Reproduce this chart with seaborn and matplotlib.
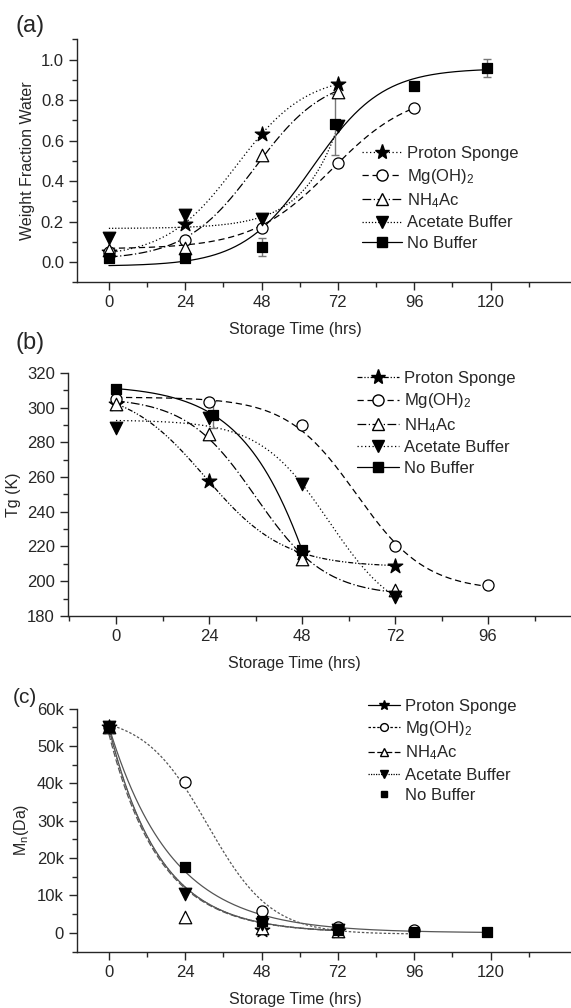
import numpy as np
import pandas as pd
import seaborn as sns
from matplotlib import pyplot as plt
from matplotlib.lines import Line2D
from matplotlib.ticker import MultipleLocator, FixedLocator, FuncFormatter

sns.set_style("ticks")
plt.rcParams['font.family'] = ['Liberation Sans', 'DejaVu Sans']
plt.rcParams['mathtext.default'] = 'regular'
plt.rcParams['font.size'] = 11.5

names = ['Proton Sponge', 'Mg(OH)$_2$', 'NH$_4$Ac', 'Acetate Buffer', 'No Buffer']

# (a) weight fraction water
a_x = {
    'Proton Sponge': [0, 24, 48, 72],
    'Mg(OH)$_2$': [0, 24, 48, 72, 96],
    'NH$_4$Ac': [0, 24, 48, 72],
    'Acetate Buffer': [0, 24, 48, 72],
    'No Buffer': [0, 24, 48, 71, 96, 119],
}
a_y = {
    'Proton Sponge': [0.05, 0.19, 0.63, 0.88],
    'Mg(OH)$_2$': [0.05, 0.11, 0.17, 0.49, 0.76],
    'NH$_4$Ac': [0.06, 0.07, 0.53, 0.84],
    'Acetate Buffer': [0.12, 0.23, 0.21, 0.67],
    'No Buffer': [0.02, 0.02, 0.075, 0.68, 0.87, 0.96],
}
a_err = [0, 0, 0.045, 0.15, 0, 0.045]

# (b) Tg
b_x = {
    'Proton Sponge': [0, 24, 48, 72],
    'Mg(OH)$_2$': [0, 24, 48, 72, 96],
    'NH$_4$Ac': [0, 24, 48, 72],
    'Acetate Buffer': [0, 24, 48, 72],
    'No Buffer': [0, 25, 48],
}
b_y = {
    'Proton Sponge': [302, 258, 216, 209],
    'Mg(OH)$_2$': [305, 303, 290, 220, 198],
    'NH$_4$Ac': [302, 285, 213, 195],
    'Acetate Buffer': [288, 294, 256, 191],
    'No Buffer': [311, 296, 218],
}
b_err = [0, 8, 0]

# (c) Mn
c_x = {
    'Proton Sponge': [0, 48, 72],
    'Mg(OH)$_2$': [0, 24, 48, 72, 96],
    'NH$_4$Ac': [0, 24, 48, 72],
    'Acetate Buffer': [0, 24, 48, 72],
    'No Buffer': [0, 24, 48, 72, 96, 119],
}
c_y = {
    'Proton Sponge': [55000, 800, 600],
    'Mg(OH)$_2$': [55000, 40500, 5800, 1500, 800],
    'NH$_4$Ac': [55000, 4200, 1200, 500],
    'Acetate Buffer': [55000, 10500, 2500, 700],
    'No Buffer': [55000, 17500, 3200, 800, 300, 300],
}

markers = {'Proton Sponge': '*', 'Mg(OH)$_2$': 'o', 'NH$_4$Ac': '^',
           'Acetate Buffer': 'v', 'No Buffer': 's'}
faces = {'Proton Sponge': 'black', 'Mg(OH)$_2$': 'white', 'NH$_4$Ac': 'white',
         'Acetate Buffer': 'black', 'No Buffer': 'black'}
msize = {'Proton Sponge': 11, 'Mg(OH)$_2$': 8, 'NH$_4$Ac': 9,
         'Acetate Buffer': 9, 'No Buffer': 7}


def fit_boltz(x, y, xs, dmin=11):
    # Boltzmann sigmoid, grid over centre/width, amplitudes by least squares
    x = np.asarray(x, float); y = np.asarray(y, float)
    best = None
    for x0 in np.linspace(-10, 130, 141):
        for dx in np.geomspace(dmin, 40, 40):
            f = 1 / (1 + np.exp((x - x0) / dx))
            M = np.column_stack([f, 1 - f])
            c, *_ = np.linalg.lstsq(M, y, rcond=None)
            sse = np.sum((M @ c - y) ** 2)
            if best is None or sse < best[0]:
                best = (sse, x0, dx, c)
    _, x0, dx, c = best
    f = 1 / (1 + np.exp((xs - x0) / dx))
    return c[0] * f + c[1] * (1 - f)


def fit_exp(x, y, xs, tmin=16):
    # first order decay with offset >= 0
    x = np.asarray(x, float); y = np.asarray(y, float)
    best = None
    for t in np.geomspace(tmin, 80, 200):
        e = np.exp(-x / t)
        M = np.column_stack([e, np.ones_like(e)])
        c, *_ = np.linalg.lstsq(M, y, rcond=None)
        if c[1] < 0:
            c = np.array([np.dot(e, y) / np.dot(e, e), 0.0])
        sse = np.sum((M @ c - y) ** 2)
        if best is None or sse < best[0]:
            best = (sse, t, c)
    _, t, c = best
    return c[0] * np.exp(-xs / t) + c[1]


def draw(ax, xd, yd, styles, fitter, lc, lw, err=None):
    for n in names:
        x = np.array(xd[n], float)
        xs = np.linspace(x.min(), x.max(), 300)
        fn = fitter[n] if isinstance(fitter, dict) else fitter
        ys = fn(x, yd[n], xs)
        sns.lineplot(x=xs, y=ys, ax=ax, color=lc, lw=lw, linestyle=styles[n], sort=False)
    if err is not None:
        ax.errorbar(xd['No Buffer'], yd['No Buffer'], yerr=err, fmt='none',
                    ecolor='#777777', elinewidth=1, capsize=3, zorder=3)
    for n in names:
        df = pd.DataFrame({'x': xd[n], 'y': yd[n]})
        sns.scatterplot(data=df, x='x', y='y', ax=ax, marker=markers[n],
                        s=msize[n] ** 2, color=faces[n], edgecolor='black',
                        linewidth=0.9, zorder=4)


def style_axes(ax, xlim, ylim, ymaj, ymin, ylabel, xmax_tick, xlab_pos):
    ax.set_xlim(*xlim)
    ax.set_ylim(*ylim)
    ax.xaxis.set_major_locator(FixedLocator(list(range(0, xmax_tick + 1, 24))))
    ax.xaxis.set_minor_locator(FixedLocator(list(range(-12, xmax_tick + 13, 12))))
    ax.yaxis.set_major_locator(MultipleLocator(ymaj))
    ax.yaxis.set_minor_locator(MultipleLocator(ymin))
    ax.tick_params(which='major', direction='out', length=6, width=1, labelsize=12)
    ax.tick_params(which='minor', direction='out', length=3.5, width=1)
    for s in ['top', 'right']:
        ax.spines[s].set_visible(False)
    for s in ['left', 'bottom']:
        ax.spines[s].set_linewidth(1)
    ax.set_xlabel('Storage Time (hrs)', fontsize=11.5)
    ax.xaxis.set_label_coords(xlab_pos, -0.165)
    ax.set_ylabel(ylabel, fontsize=11.5)


def legend(ax, styles, pos, hl, ms_scale=1.0, nolines=()):
    hs = []
    for n in names:
        ls = 'none' if n in nolines else styles[n]
        hs.append(Line2D([], [], color='black', lw=0.9, linestyle=ls,
                         marker=markers[n], markerfacecolor=faces[n],
                         markeredgecolor='black', markersize=msize[n] * ms_scale))
    ax.legend(hs, names, loc='upper left', bbox_to_anchor=pos,
              bbox_transform=ax.figure.transFigure, frameon=False,
              handlelength=hl, handletextpad=0.3, labelspacing=0.33,
              borderpad=0, borderaxespad=0, fontsize=12)


fig = plt.figure(figsize=(5.71, 10.08), dpi=100)

# panel (a)
ax1 = fig.add_axes([0.135, 0.720, 0.865, 0.241])
sty_a = {'Proton Sponge': (0, (1, 2)), 'Mg(OH)$_2$': (0, (5, 3)),
         'NH$_4$Ac': (0, (7, 2, 1, 2)), 'Acetate Buffer': (0, (1, 1.5)),
         'No Buffer': '-'}
draw(ax1, a_x, a_y, sty_a, lambda x, y, xs: fit_boltz(x, y, xs, 11), 'black', 0.9, err=a_err)
style_axes(ax1, (-10, 145.3), (-0.1, 1.1), 0.2, 0.1, 'Weight Fraction Water', 120, 0.441)
ax1.yaxis.set_major_formatter(FuncFormatter(lambda v, p: f'{v:.1f}'))
legend(ax1, sty_a, (0.634, 0.855), 2.4)
fig.text(0.028, 0.974, '(a)', fontsize=17, va='center')

# panel (b)
ax2 = fig.add_axes([0.119, 0.389, 0.881, 0.241])
sty_b = {'Proton Sponge': (0, (4, 1.5, 1, 1.5, 1, 1.5)), 'Mg(OH)$_2$': (0, (5, 3)),
         'NH$_4$Ac': (0, (7, 2, 1, 2)), 'Acetate Buffer': (0, (1, 2)),
         'No Buffer': '-'}
draw(ax2, b_x, b_y, sty_b, lambda x, y, xs: fit_boltz(x, y, xs, 9), 'black', 0.9, err=b_err)
style_axes(ax2, (-12.4, 117.4), (180, 320), 20, 10, 'Tg (K)', 96, 0.451)
legend(ax2, sty_b, (0.625, 0.632), 2.55)
fig.text(0.028, 0.660, '(b)', fontsize=17, va='center')

# panel (c)
ax3 = fig.add_axes([0.135, 0.056, 0.865, 0.241])
sty_c = {'Proton Sponge': '-', 'Mg(OH)$_2$': (0, (2, 1.5)),
         'NH$_4$Ac': (0, (5, 2)), 'Acetate Buffer': (0, (1, 1)),
         'No Buffer': '-'}
fit_c = {n: fit_exp for n in names}
fit_c['Mg(OH)$_2$'] = lambda x, y, xs: fit_boltz(x, y, xs, 10)
draw(ax3, c_x, c_y, sty_c, fit_c, '#555555', 0.9)
style_axes(ax3, (-10, 145.3), (-5000, 60000), 10000, 5000, 'M$_n$(Da)', 120, 0.441)
ax3.yaxis.set_major_formatter(FuncFormatter(lambda v, p: '0' if v == 0 else f'{v/1000:.0f}k'))
legend(ax3, sty_c, (0.645, 0.307), 1.9, ms_scale=0.7, nolines=('No Buffer',))
fig.text(0.022, 0.308, '(c)', fontsize=15, va='center')

fig.savefig('out.png', dpi=100)
